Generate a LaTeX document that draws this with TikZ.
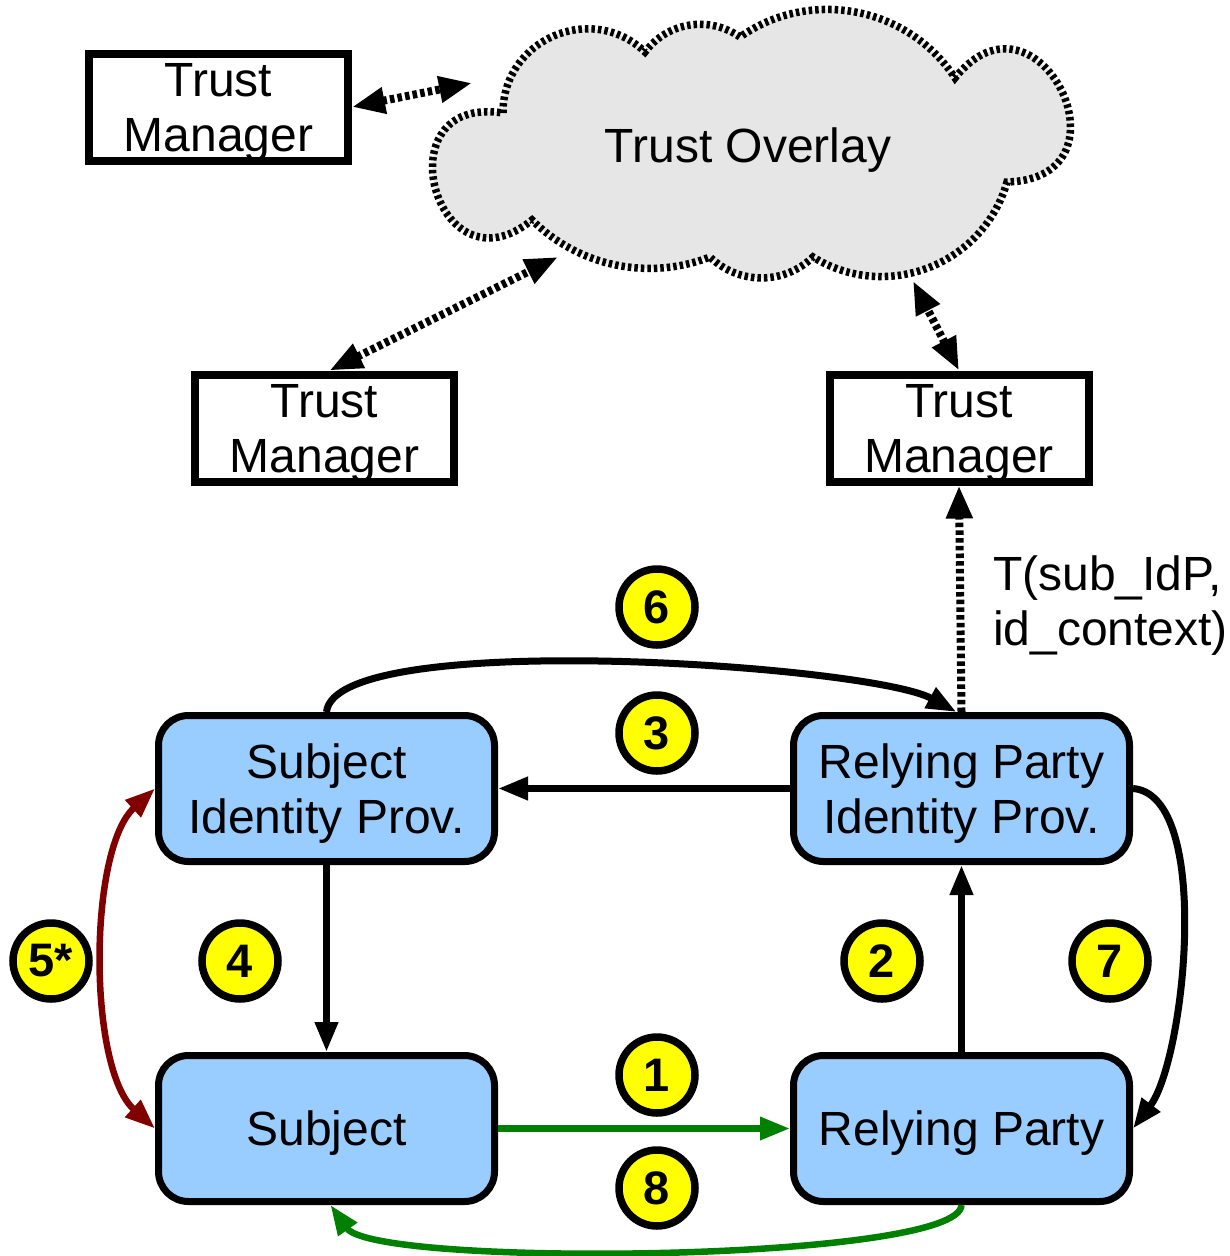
\documentclass[tikz,border=0pt]{standalone}
\usepackage{fontspec}
\setmainfont{Liberation Sans}
\usetikzlibrary{arrows.meta}
\definecolor{boxblue}{HTML}{99CCFF}
\definecolor{cloudgray}{HTML}{E6E6E6}
\definecolor{stepyellow}{HTML}{FFFF00}
\definecolor{darkred}{HTML}{800000}
\definecolor{flowgreen}{HTML}{008000}
\tikzset{
  bigtext/.style={font=\fontsize{48}{55}\selectfont},
  tm/.style={draw, line width=8pt, minimum width=259pt, minimum height=107pt,
    inner sep=0pt, align=center, text depth=-6pt, bigtext},
  party/.style={draw, line width=7pt, rounded corners=30pt, fill=boxblue,
    minimum width=336pt, minimum height=146pt, inner sep=0pt, align=center,
    text depth=0pt, bigtext},
  num/.style={circle, draw, line width=7.5pt, fill=stepyellow, minimum size=76pt,
    inner sep=0pt, font=\bfseries\fontsize{47}{55}\selectfont},
  tipA/.tip={Triangle[length=33pt,width=25pt]},
  tipB/.tip={Triangle[length=30pt,width=22pt]},
  dotconn/.style={line width=8pt, dash pattern=on 4.5pt off 3.2pt},
  conn/.style={line width=7pt, -tipB},
}
\begin{document}
\begin{tikzpicture}[x=1pt, y=-1pt]
\useasboundingbox (0,0) rectangle (1230,1256);

% trust overlay cloud
\path[fill=cloudgray, draw, line width=7.5pt, dash pattern=on 3.5pt off 3pt]
  (503,113) to[bend left=67, looseness=1.22] (645,52)
            to[bend left=44, looseness=1.0] (740,37)
            to[bend left=46, looseness=1.0] (955,78)
            to[bend left=115, looseness=2.9] (1007,182)
            to[bend left=53, looseness=1.06] (813,257)
            to[bend left=44, looseness=1.0] (710,257)
            to[bend left=33, looseness=0.93] (532,220)
            to[bend left=114, looseness=2.87] (503,113) -- cycle;
\node[bigtext, anchor=base] (overlay) at (748,162) {Trust Overlay};
\coordinate (c1) at (472,83);
\coordinate (c2) at (558,257);
\coordinate (c3) at (913,281);

% trust managers
\node[tm] (tm1) at (218.5,107) {Trust\\Manager};
\node[tm] (tm2) at (324.5,428) {Trust\\Manager};
\node[tm] (tm3) at (959,428) {Trust\\Manager};

% parties
\node[party] (sidp) at (326.5,788.5) {Subject\\Identity Prov.};
\node[party] (rpidp) at (961.5,788.5) {Relying Party\\Identity Prov.};
\node[party] (subj) at (326.5,1128.5) {Subject};
\node[party] (rp) at (961.5,1128.5) {Relying Party};

% links to the overlay
\draw[dotconn, tipA-tipA] (tm1.east) -- (c1);
\draw[dotconn, tipA-tipA] ([xshift=5pt]tm2.north) -- (c2);
\draw[dotconn, tipA-tipA] (tm3.north) -- (c3);
\draw[dotconn, -tipA] (rpidp.north) -- (tm3.south);
\node[bigtext, anchor=north west, align=left, inner sep=0pt] (tlabel) at (993,556)
  {T(sub\_IdP,\\id\_context)};

% protocol steps
\draw[conn] (sidp.north) .. controls (335,628) and (870,665) .. ([xshift=-5pt]rpidp.north);
\draw[conn] (rpidp.west) -- (sidp.east);
\draw[conn] (sidp.south) -- (subj.north);
\draw[conn] (rp.north) -- (rpidp.south);
\draw[conn] (rpidp.east) .. controls (1213,795) and (1185,1060) .. (rp.east);
\draw[line width=6.5pt, darkred, tipB-tipB] (sidp.west) .. controls (88,850) and (88,1068) .. (subj.west);
\draw[line width=6.5pt, flowgreen, -tipB] (subj.east) -- (rp.west);
\draw[line width=6.5pt, flowgreen, -tipB] (rp.south) .. controls (960,1262) and (375,1268) .. ([xshift=4pt]subj.south);

% step numbers
\node[num] (n6) at (657,607) {6};
\node[num] (n3) at (657,733) {3};
\node[num] (n1) at (657,1075) {1};
\node[num] (n8) at (657,1188) {8};
\node[num] (n4) at (240,961) {4};
\node[num] (n5) at (51,961) {5*};
\node[num] (n2) at (882,961) {2};
\node[num] (n7) at (1110,961) {7};
\end{tikzpicture}
\end{document}
